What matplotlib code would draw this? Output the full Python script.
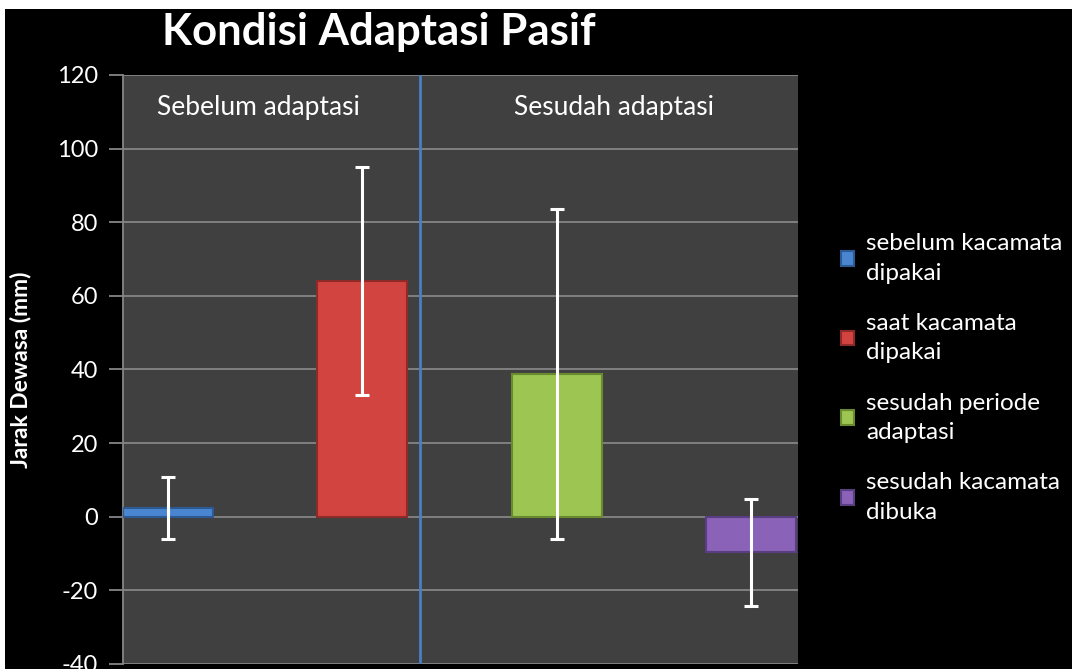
import matplotlib.pyplot as plt
from matplotlib.patches import Rectangle

# data
labels = ["sebelum kacamata\ndipakai", "saat kacamata\ndipakai",
          "sesudah periode\nadaptasi", "sesudah kacamata\ndibuka"]
means = [2.4, 64.1, 38.8, -9.7]
errors = [8.5, 30.9, 44.8, 14.5]
colors = ["#4a86d0", "#d24440", "#9cc552", "#8a62b8"]
edges = ["#2c5a94", "#8e2a28", "#6a8a30", "#5a3e82"]
yticks = [-40, -20, 0, 20, 40, 60, 80, 100, 120]

plt.rcParams['font.family'] = ['Lato', 'DejaVu Sans']
plt.rcParams['axes.unicode_minus'] = False

fig = plt.figure(figsize=(10.72, 6.69), dpi=100, facecolor="white")
# black slide background with thin white margin top/left
fig.patches.append(Rectangle((5 / 1072, 0), 1, 1 - 9 / 669, transform=fig.transFigure,
                             facecolor="black", edgecolor="none", zorder=-10))

ax = fig.add_axes([0.1147, 0.0075, 0.6297, 0.8804])
ax.set_facecolor("#404040")

x = list(range(len(means)))
for i in x:
    ax.bar(i, means[i], width=0.463, color=colors[i], edgecolor=edges[i],
           linewidth=1.5, label=labels[i], zorder=3)
ax.errorbar(x, means, yerr=errors, fmt="none", ecolor="white", elinewidth=2.2,
            capsize=4.7, capthick=2.2, zorder=4)

ax.set_ylim(-40, 120)
ax.set_xlim(-0.232, 3.24)
ax.set_yticks(yticks)
ax.set_xticks([])
ax.yaxis.grid(True, color="#858585", linewidth=1.3, zorder=0)
ax.set_axisbelow(True)
for s in ["top", "right", "bottom"]:
    ax.spines[s].set_visible(False)
ax.spines["left"].set_color("#858585")
ax.spines["left"].set_linewidth(1.3)
ax.tick_params(axis="y", colors="#858585", length=10, width=1.3, labelcolor="white",
               labelsize=17, pad=8)

# divider between phases
ax.axvline(1.296, ymin=0, ymax=1, color="#4a7fc0", linewidth=2, zorder=2)
ax.text(0.2, 0.945, "Sebelum adaptasi", transform=ax.transAxes, color="white",
        fontsize=19, ha="center", va="center")
ax.text(0.727, 0.945, "Sesudah adaptasi", transform=ax.transAxes, color="white",
        fontsize=19, ha="center", va="center")

ax.set_ylabel("Jarak Dewasa (mm)", color="white", fontsize=16.5, fontweight="bold")
ax.yaxis.set_label_coords(-0.135, 0.5)

fig.text(0.353, 0.952, "Kondisi Adaptasi Pasif", color="white", fontsize=31.5,
         fontweight="bold", ha="center", va="center")

leg = ax.legend(loc="upper left", bbox_to_anchor=(0.764, 0.684),
                bbox_transform=fig.transFigure, frameon=False, fontsize=17.5,
                labelcolor="white", handlelength=0.55, handleheight=0.55,
                handletextpad=0.5, labelspacing=1.2)
for t in leg.get_texts():
    t.set_linespacing(1.5)

fig.savefig("out.png", dpi=100, facecolor=fig.get_facecolor())
